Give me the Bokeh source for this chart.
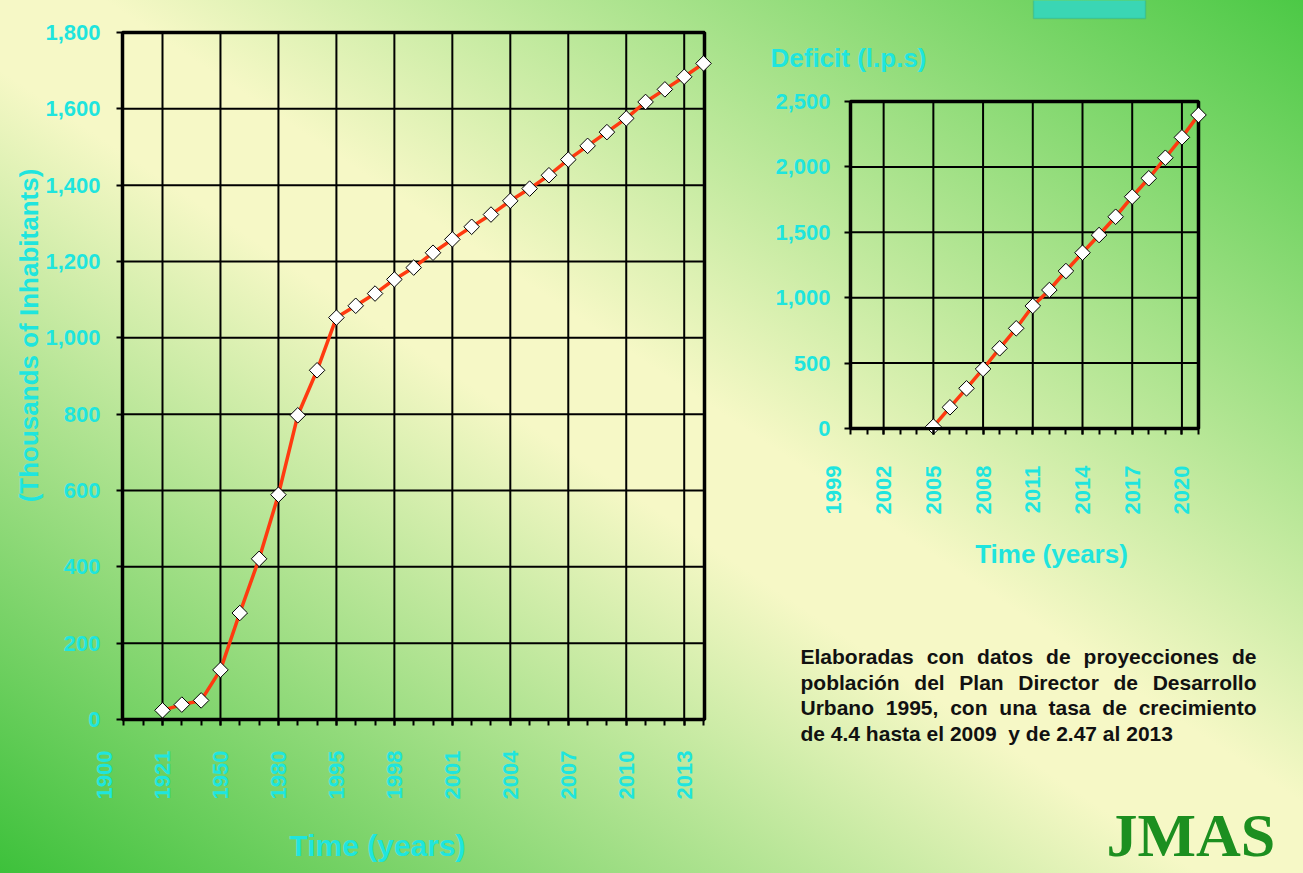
import numpy as np
from bokeh.plotting import figure
from bokeh.models import FixedTicker, Label, NumeralTickFormatter, LinearAxis, BoxAnnotation
from bokeh.layouts import row
from bokeh.embed import file_html
from bokeh.resources import INLINE

# ---------------- data ----------------
pop_categories = ["1900", "1910", "1915", "1921", "1930", "1940", "1950", "1960",
                  "1970", "1980", "1990", "1993"] + [str(y) for y in range(1995, 2015)]
pop_years = pop_categories[3:]
pop_values = [24, 39, 50, 130, 279, 421, 589, 797, 915, 1053,
              1084, 1116, 1153, 1184, 1223, 1258, 1291, 1323, 1359, 1391,
              1426, 1467, 1503, 1539, 1575, 1618, 1651, 1684, 1719]
pop_tick_labels = pop_categories[0::3]
pop_yticks = list(range(0, 1801, 200))

def_categories = [str(y) for y in range(1999, 2022)]
def_years = [str(y) for y in range(2005, 2022)]
def_values = [15, 162, 307, 455, 613, 766, 937, 1059, 1204, 1344, 1479,
              1619, 1772, 1913, 2070, 2226, 2397]
def_tick_labels = def_categories[0::3]
def_yticks = list(range(0, 2501, 500))

note_lines = ["Elaboradas con datos de proyecciones de",
              "población del Plan Director de Desarrollo",
              "Urbano 1995, con una tasa de crecimiento",
              "de 4.4 hasta el 2009  y de 2.47 al 2013"]

# ---------------- geometry (page pixels) ----------------
TOTAL_W, TOTAL_H = 1303, 873
L_W = 740
L_XLIM, L_XPX = (0.93, 31.05), (122, 704)
L_YPX = (719, 32)
R_XPX = (850, 1198)
R_YPX = (428, 101)

CYAN = "#1fe5de"
FONT = "Liberation Sans"
LINE_C = "#ff3a10"
MSIZE = 11

def extend(lo, hi, px_lo, px_hi, page_lo, page_hi):
    ppu = (px_hi - px_lo) / (hi - lo)
    return lo - (px_lo - page_lo) / ppu, hi + (page_hi - px_hi) / ppu

def style_axis(ax, fs="22px"):
    ax.axis_line_color = "black"
    ax.axis_line_width = 3
    ax.major_tick_line_color = "black"
    ax.major_tick_line_width = 2
    ax.major_tick_out = 6
    ax.major_tick_in = 0
    ax.minor_tick_line_color = "black"
    ax.minor_tick_line_width = 2
    ax.minor_tick_out = 6
    ax.minor_tick_in = 0
    ax.major_label_text_font = FONT
    ax.major_label_text_font_style = "bold"
    ax.major_label_text_font_size = fs
    ax.major_label_text_color = CYAN

def add_label(p, fig_left, text, px, py, size, color=CYAN, angle=0.0, align="center",
              baseline="middle", font=FONT):
    # screen units: from the frame's bottom-left corner (frame = whole figure), y up
    p.add_layout(Label(x=px - fig_left, y=TOTAL_H - py, x_units="screen", y_units="screen",
                       text=text, angle=angle, text_align=align, text_baseline=baseline,
                       text_font=font, text_font_style="bold", text_font_size=size,
                       text_color=color))

def make_fig(w, xr, yr):
    p = figure(frame_width=w, frame_height=TOTAL_H, min_border=0, x_range=xr, y_range=yr,
               output_backend="svg", toolbar_location=None, title=None,
               background_fill_color=None, border_fill_color=None, outline_line_color=None)
    p.grid.visible = False
    return p

def label_only_axis(p, tick, text, standoff, fixed):
    ax = LinearAxis(ticker=FixedTicker(ticks=[tick]), major_label_overrides={tick: text},
                    fixed_location=fixed)
    style_axis(ax)
    ax.axis_line_color = None
    ax.major_tick_line_color = None
    ax.minor_tick_line_color = None
    ax.major_label_orientation = np.pi / 2
    ax.major_label_standoff = standoff
    p.add_layout(ax, "below")

# ---------------- left chart ----------------
lx = extend(L_XLIM[0], L_XLIM[1], L_XPX[0], L_XPX[1], 0, L_W)
y_top = pop_yticks[-1]
ly = extend(0, y_top, TOTAL_H - L_YPX[0], TOTAL_H - L_YPX[1], 0, TOTAL_H)
p1 = make_fig(L_W, lx, ly)

x_idx = [pop_categories.index(c) for c in pop_years]
tick_idx = [pop_categories.index(c) for c in pop_tick_labels]
in_ticks = [k for k in tick_idx if k >= L_XLIM[0]]
xt = FixedTicker(ticks=in_ticks, minor_ticks=list(range(1, len(pop_categories))))
p1.xaxis.ticker = xt
p1.xaxis.major_label_overrides = {k: pop_categories[k] for k in tick_idx}
p1.xaxis.major_label_orientation = np.pi / 2
p1.xaxis.major_label_standoff = 25
p1.xaxis.fixed_location = 0
p1.xaxis.bounds = L_XLIM
p1.yaxis.ticker = FixedTicker(ticks=pop_yticks)
p1.yaxis.formatter = NumeralTickFormatter(format="0,0")
p1.yaxis.major_label_standoff = 16
p1.yaxis.fixed_location = L_XLIM[0]
p1.yaxis.bounds = (0, y_top)
for ax in (p1.xaxis[0], p1.yaxis[0]):
    style_axis(ax)
p1.yaxis.minor_tick_line_color = None
label_only_axis(p1, tick_idx[0], pop_categories[tick_idx[0]], 25, 0)

gy = pop_yticks[1:-1]
p1.segment(x0=in_ticks, y0=[0] * len(in_ticks), x1=in_ticks, y1=[y_top] * len(in_ticks),
           line_color="black", line_width=2)
p1.segment(x0=[L_XLIM[0]] * len(gy), y0=gy, x1=[L_XLIM[1]] * len(gy), y1=gy,
           line_color="black", line_width=2)
p1.quad(left=[L_XLIM[0]], right=[L_XLIM[1]], bottom=[0], top=[y_top],
        fill_color=None, line_color="black", line_width=3.5)

p1.line(x_idx, pop_values, line_color=LINE_C, line_width=3.5)
p1.scatter(x_idx, pop_values, marker="square", angle=np.pi / 4, size=MSIZE,
           fill_color="white", line_color="black", line_width=1)

add_label(p1, 0, "(Thousands of Inhabitants)", 28, 335, "26px", angle=np.pi / 2)
add_label(p1, 0, "Time (years)", 377, 845, "30px")

# ---------------- right chart ----------------
R_W = TOTAL_W - L_W
base = int(def_categories[1])
x_last = int(def_categories[-1]) - base
d_top = def_yticks[-1]
rx = extend(0, x_last, R_XPX[0] - L_W, R_XPX[1] - L_W, 0, R_W)
ry = extend(0, d_top, TOTAL_H - R_YPX[0], TOTAL_H - R_YPX[1], 0, TOTAL_H)
p2 = make_fig(R_W, rx, ry)

x2 = [int(c) - base for c in def_years]
tick2 = [int(c) - base for c in def_tick_labels]
in2 = [k for k in tick2 if k >= 0]
xt2 = FixedTicker(ticks=in2, minor_ticks=list(range(0, x_last + 1)))
p2.xaxis.ticker = xt2
p2.xaxis.major_label_overrides = {k: str(k + base) for k in tick2}
p2.xaxis.major_label_orientation = np.pi / 2
p2.xaxis.major_label_standoff = 31
p2.xaxis.fixed_location = 0
p2.xaxis.bounds = (0, x_last)
p2.yaxis.ticker = FixedTicker(ticks=def_yticks)
p2.yaxis.formatter = NumeralTickFormatter(format="0,0")
p2.yaxis.major_label_standoff = 14
p2.yaxis.fixed_location = 0
p2.yaxis.bounds = (0, d_top)
for ax in (p2.xaxis[0], p2.yaxis[0]):
    style_axis(ax)
p2.yaxis.minor_tick_line_color = None
label_only_axis(p2, tick2[0], str(tick2[0] + base), 31, 0)

gx = [k for k in in2 if k > 0]
p2.segment(x0=gx, y0=[0] * len(gx), x1=gx, y1=[d_top] * len(gx),
           line_color="black", line_width=2)
gy2 = def_yticks[1:-1]
p2.segment(x0=[0] * len(gy2), y0=gy2, x1=[x_last] * len(gy2), y1=gy2,
           line_color="black", line_width=2)
p2.quad(left=[0], right=[x_last], bottom=[0], top=[d_top],
        fill_color=None, line_color="black", line_width=3.5)

p2.line(x2, def_values, line_color=LINE_C, line_width=3.5)
p2.scatter(x2, def_values, marker="square", angle=np.pi / 4, size=MSIZE,
           fill_color="white", line_color="black", line_width=1)

add_label(p2, L_W, "Deficit (l.p.s)", 770, 57, "26px", align="left")
add_label(p2, L_W, "Time (years)", 1051, 553, "26px")

# note text, justified (Arial/Liberation Sans Bold advance widths, 1/1000 em)
AW = {" ": 278, ",": 278, ".": 278, "ó": 611,
      "A": 722, "B": 722, "C": 722, "D": 722, "E": 667, "F": 611, "G": 778, "H": 722, "I": 278,
      "J": 556, "K": 722, "L": 611, "M": 833, "N": 722, "O": 778, "P": 667, "Q": 778, "R": 722,
      "S": 667, "T": 611, "U": 722, "V": 667, "W": 944, "X": 667, "Y": 667, "Z": 611,
      "a": 556, "b": 611, "c": 556, "d": 611, "e": 556, "f": 333, "g": 611, "h": 611, "i": 278,
      "j": 278, "k": 556, "l": 278, "m": 889, "n": 611, "o": 611, "p": 611, "q": 611, "r": 389,
      "s": 556, "t": 333, "u": 611, "v": 556, "w": 778, "x": 556, "y": 556, "z": 500}
NOTE_FS = 21
def tw(s):
    return sum(AW.get(ch, 556) for ch in s) * NOTE_FS / 1000.0

note_left, note_right = 800, 1256
centers = [656, 681.5, 707, 733]
for i, line in enumerate(note_lines):
    words = line.split(" ")
    if i < 3:
        gap = (note_right - note_left - sum(tw(w) for w in words)) / (len(words) - 1)
    else:
        gap = tw(" ")
    xx = note_left
    for w in words:
        if w:
            add_label(p2, L_W, w, xx, centers[i], f"{NOTE_FS}px", color="#111111",
                      align="left", baseline="middle")
        xx += tw(w) + gap

add_label(p2, L_W, "JMAS", 1106, 834, "62px", color="#1c8f20", align="left",
          baseline="middle", font="Liberation Serif")

p2.add_layout(BoxAnnotation(left=1033 - L_W, right=1145 - L_W, top=TOTAL_H + 5, bottom=TOTAL_H - 18,
                            left_units="screen", right_units="screen",
                            top_units="screen", bottom_units="screen",
                            fill_color="#3ad6b4", fill_alpha=1.0,
                            line_color="#1f9e8a", line_width=1.5))

layout = row(p1, p2, styles={
    "background": "linear-gradient(to top right, #3dc13b 0%, #f6f8c6 46%, #f6f8c6 54%, #4cc946 100%)"})

open("out.html", "w").write(file_html(layout, INLINE))
